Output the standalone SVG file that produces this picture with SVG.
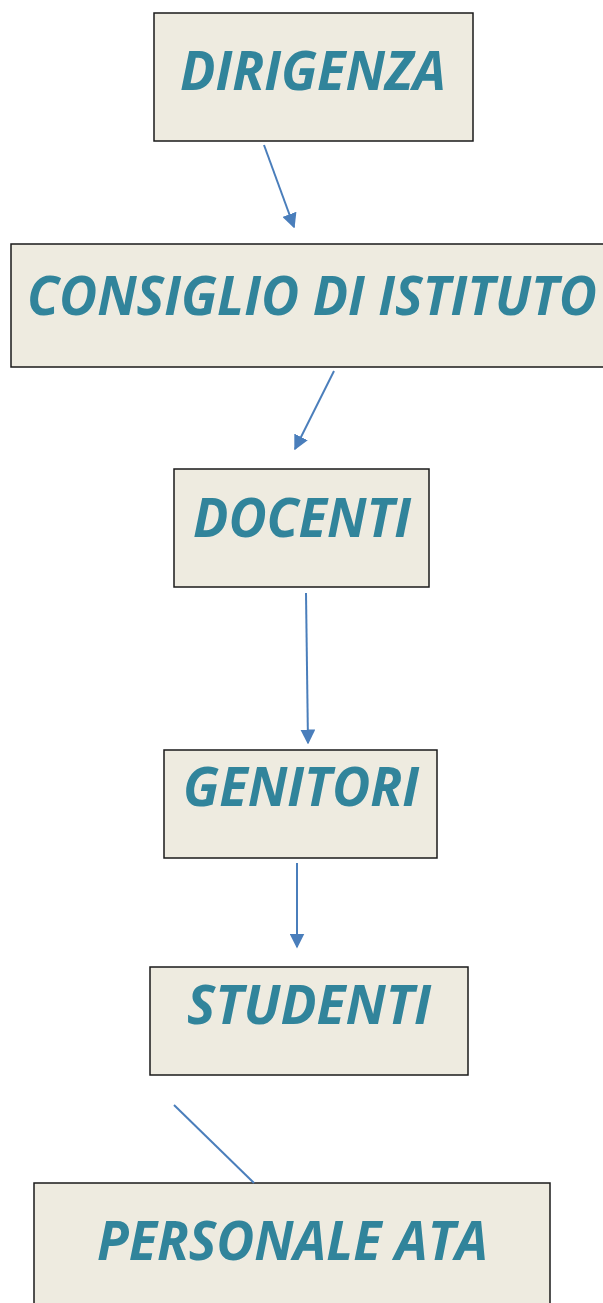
<svg xmlns="http://www.w3.org/2000/svg" width="603" height="1303" viewBox="0 0 603 1303">
<style>
.box{fill:#eeebe0;stroke:#1a1a1a;stroke-width:1.5}
.lbl{font-family:"Open Sans","Liberation Sans",sans-serif;font-weight:bold;font-style:italic;font-size:53px;fill:#31849b}
.con{stroke:#4a7ebb;stroke-width:2;fill:none}
</style>
<defs>
<marker id="ah" viewBox="0 0 10 10" refX="9" refY="5" markerWidth="7.5" markerHeight="7.5" orient="auto" markerUnits="strokeWidth">
<path d="M0,0 L10,5 L0,10 z" fill="#4a7ebb"/>
</marker>
</defs>
<g id="n-dirigenza"><rect class="box" x="154" y="13" width="319" height="128"/><text class="lbl" x="180" y="90" textLength="266" lengthAdjust="spacingAndGlyphs">DIRIGENZA</text></g>
<g id="n-consiglio"><rect class="box" x="11" y="244" width="600" height="123"/><text class="lbl" x="27" y="315" textLength="570" lengthAdjust="spacingAndGlyphs">CONSIGLIO DI ISTITUTO</text></g>
<g id="n-docenti"><rect class="box" x="174" y="469" width="255" height="118"/><text class="lbl" x="193" y="537" textLength="218" lengthAdjust="spacingAndGlyphs">DOCENTI</text></g>
<g id="n-genitori"><rect class="box" x="164" y="750" width="273" height="108"/><text class="lbl" x="183" y="806" textLength="236" lengthAdjust="spacingAndGlyphs">GENITORI</text></g>
<g id="n-studenti"><rect class="box" x="150" y="967" width="318" height="108"/><text class="lbl" x="187" y="1024" textLength="244" lengthAdjust="spacingAndGlyphs">STUDENTI</text></g>
<g id="n-ata"><rect class="box" x="34" y="1183" width="516" height="130"/><text class="lbl" x="97" y="1260" textLength="391" lengthAdjust="spacingAndGlyphs">PERSONALE ATA</text></g>
<g id="connectors">
<line class="con" x1="264" y1="145" x2="294" y2="227" marker-end="url(#ah)"/>
<line class="con" x1="334" y1="371" x2="295" y2="449" marker-end="url(#ah)"/>
<line class="con" x1="306" y1="593" x2="308" y2="743" marker-end="url(#ah)"/>
<line class="con" x1="297" y1="863" x2="297" y2="947" marker-end="url(#ah)"/>
<line class="con" x1="174" y1="1105" x2="254" y2="1183"/>
</g>
</svg>
